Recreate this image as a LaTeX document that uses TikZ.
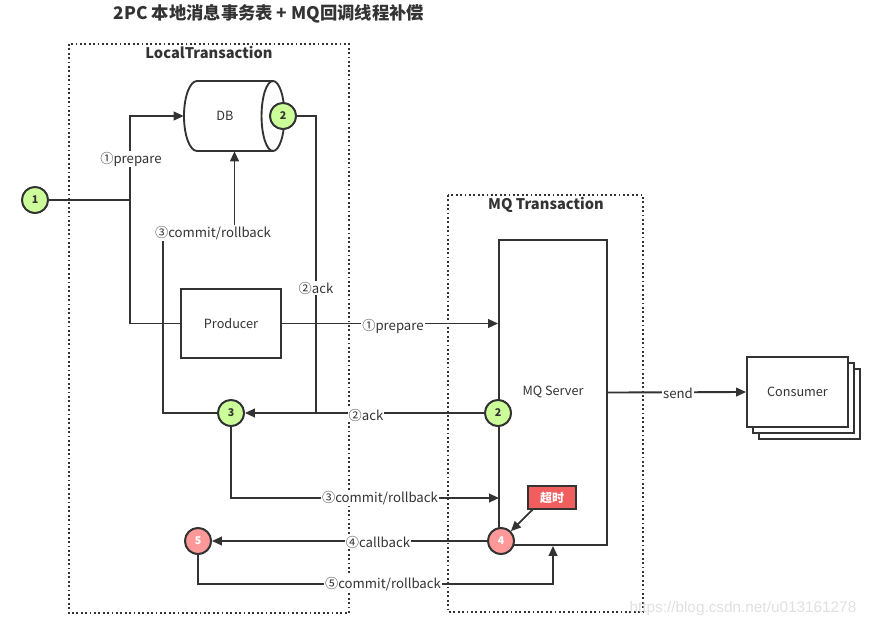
\documentclass[tikz,border=0pt]{standalone}
\usepackage{fontspec}
\setmainfont{Noto Sans CJK SC}
\newfontfamily\wmfont{Liberation Sans}
\usetikzlibrary{arrows.meta}
\definecolor{ink}{HTML}{333333}
\definecolor{gfill}{HTML}{CCFF99}
\definecolor{rfill}{HTML}{FF9999}
\definecolor{tofill}{HTML}{F05E5E}
\tikzset{
  ln/.style={draw=ink, line width=1.4pt},
  arr/.style={ln, -{Triangle[length=7.5pt,width=6.5pt]}},
  gcirc/.style={circle, draw=ink, line width=1.4pt, fill=gfill, minimum size=19.5pt, inner sep=0pt, font=\bfseries\fontsize{8}{9}\selectfont, text=ink},
  rcirc/.style={circle, draw=ink, line width=1.4pt, fill=rfill, minimum size=19.5pt, inner sep=0pt, font=\bfseries\fontsize{8}{9}\selectfont, text=white},
  lbl/.style={fill=white, inner sep=0.8pt, text=ink, font=\fontsize{9.9}{11}\selectfont},
  boxn/.style={draw=ink, line width=1.4pt, fill=white, text=ink, font=\fontsize{9.5}{11}\selectfont, inner sep=0pt},
  grp/.style={draw=ink, line width=1.3pt, dash pattern=on 1.3pt off 2pt},
  grpt/.style={text=ink, font=\bfseries\fontsize{11}{13}\selectfont},
}
\begin{document}
\begin{tikzpicture}[x=0.75pt, y=-0.75pt]
\useasboundingbox (0,0) rectangle (870,629);

% title
\node[text=ink, font=\bfseries\fontsize{13}{15}\selectfont] (title) at (269,14) {2PC 本地消息事务表 + MQ回调线程补偿};

% groups
\draw[grp] (69,44) rectangle (349,613);
\node[grpt] (lt) at (209,53) {LocalTransaction};
\draw[grp] (448,195) rectangle (643,612);
\node[grpt] (mqt) at (546,205) {MQ Transaction};

% DB cylinder
\node[minimum width=75.75pt, minimum height=52.5pt, inner sep=0pt] (db) at (234.5,116) {};
\draw[ln, fill=white] (197,81) -- (273,81) -- (273,151) -- (197,151)
   arc[start angle=270, end angle=90, x radius=9.75pt, y radius=26.25pt] -- cycle;
\draw[ln, fill=white] (273,116) ellipse [x radius=8.6pt, y radius=26.25pt];
\node[text=ink, font=\fontsize{9.5}{11}\selectfont] (dbt) at (225,116) {DB};

% boxes
\node[boxn, minimum width=75pt, minimum height=51.75pt] (prod) at (231,323.5) {Producer};
\node[boxn, minimum width=81pt, minimum height=228.75pt] (mq) at (553,392.5) {};
\node[text=ink, font=\fontsize{9.5}{11}\selectfont] (mqtxt) at (553,392) {MQ Server};

% consumer stack
\draw[ln, fill=white] (759,369) rectangle (860,439);
\draw[ln, fill=white] (753,363) rectangle (854,433);
\node[boxn, minimum width=75.75pt, minimum height=52.5pt] (cons) at (797.5,392) {Consumer};

% junction coordinates
\coordinate (j1) at (130,200);
\coordinate (k1) at (163,233);
\coordinate (j2) at (316,413);
\coordinate (m3) at (499,498);
\coordinate (m5) at (553,584);

% timeout box
\node[draw=ink, line width=1.2pt, fill=tofill, text=white, font=\bfseries\fontsize{9}{10}\selectfont, minimum width=36pt, minimum height=17pt, inner sep=0pt] (to) at (552,497.5) {超时};

% circle positions (drawn after connectors)
\coordinate (p1) at (35,200);
\coordinate (p3) at (231,413);
\coordinate (pq2) at (498,413);
\coordinate (p4) at (501,541);
\coordinate (p5) at (198,541);
\coordinate (pd) at (283,116);
\node[gcirc] (c1) at (p1) {1};
\node[gcirc] (c3) at (p3) {3};
\node[gcirc] (mq2) at (pq2) {2};
\node[rcirc] (c4) at (p4) {4};
\node[rcirc] (c5) at (p5) {5};
\node[gcirc] (dbc) at (pd) {2};

% connectors
\draw[ln] (c1) -- (j1);
\draw[arr] (j1) |- (db.west);
\draw[ln] (j1) |- (prod.west);
\draw[arr] (c3) -| (k1) -| (db.south);
\draw[ln] (dbc) -| (j2);
\draw[arr] (mq2) -- (c3);
\draw[arr] (prod.east) -- (prod.east -| mq.west);
\draw[arr] (c3) |- (m3);
\draw[arr] (c4) -- (c5);
\draw[arr] (c5) |- (m5) -- (mq.south);
\draw[arr] (mq.east) -- (cons.west);
\draw[arr] (to.south west) ++(4pt,0) -- (c4);

% circles on top
\node[gcirc] at (p1) {1};
\node[gcirc] at (p3) {3};
\node[gcirc] at (pq2) {2};
\node[rcirc] at (p4) {4};
\node[rcirc] at (p5) {5};
\node[gcirc] at (pd) {2};

% labels
\node[lbl] (l1) at (131,159) {①prepare};
\node[lbl] (l2) at (213,233) {③commit/rollback};
\node[lbl] (l3) at (316,288) {②ack};
\node[lbl] (l4) at (393,326) {①prepare};
\node[lbl] (l5) at (366,415) {②ack};
\node[lbl] (l6) at (380,498) {③commit/rollback};
\node[lbl] (l7) at (378,542) {④callback};
\node[lbl] (l8) at (383,584) {⑤commit/rollback};
\node[lbl] (l9) at (678,393) {send};

% watermark
\node[text=black!12, font=\wmfont\fontsize{11.5}{13}\selectfont, anchor=east] (wm) at (861,609) {https://blog.csdn.net/u013161278};
\end{tikzpicture}
\end{document}
